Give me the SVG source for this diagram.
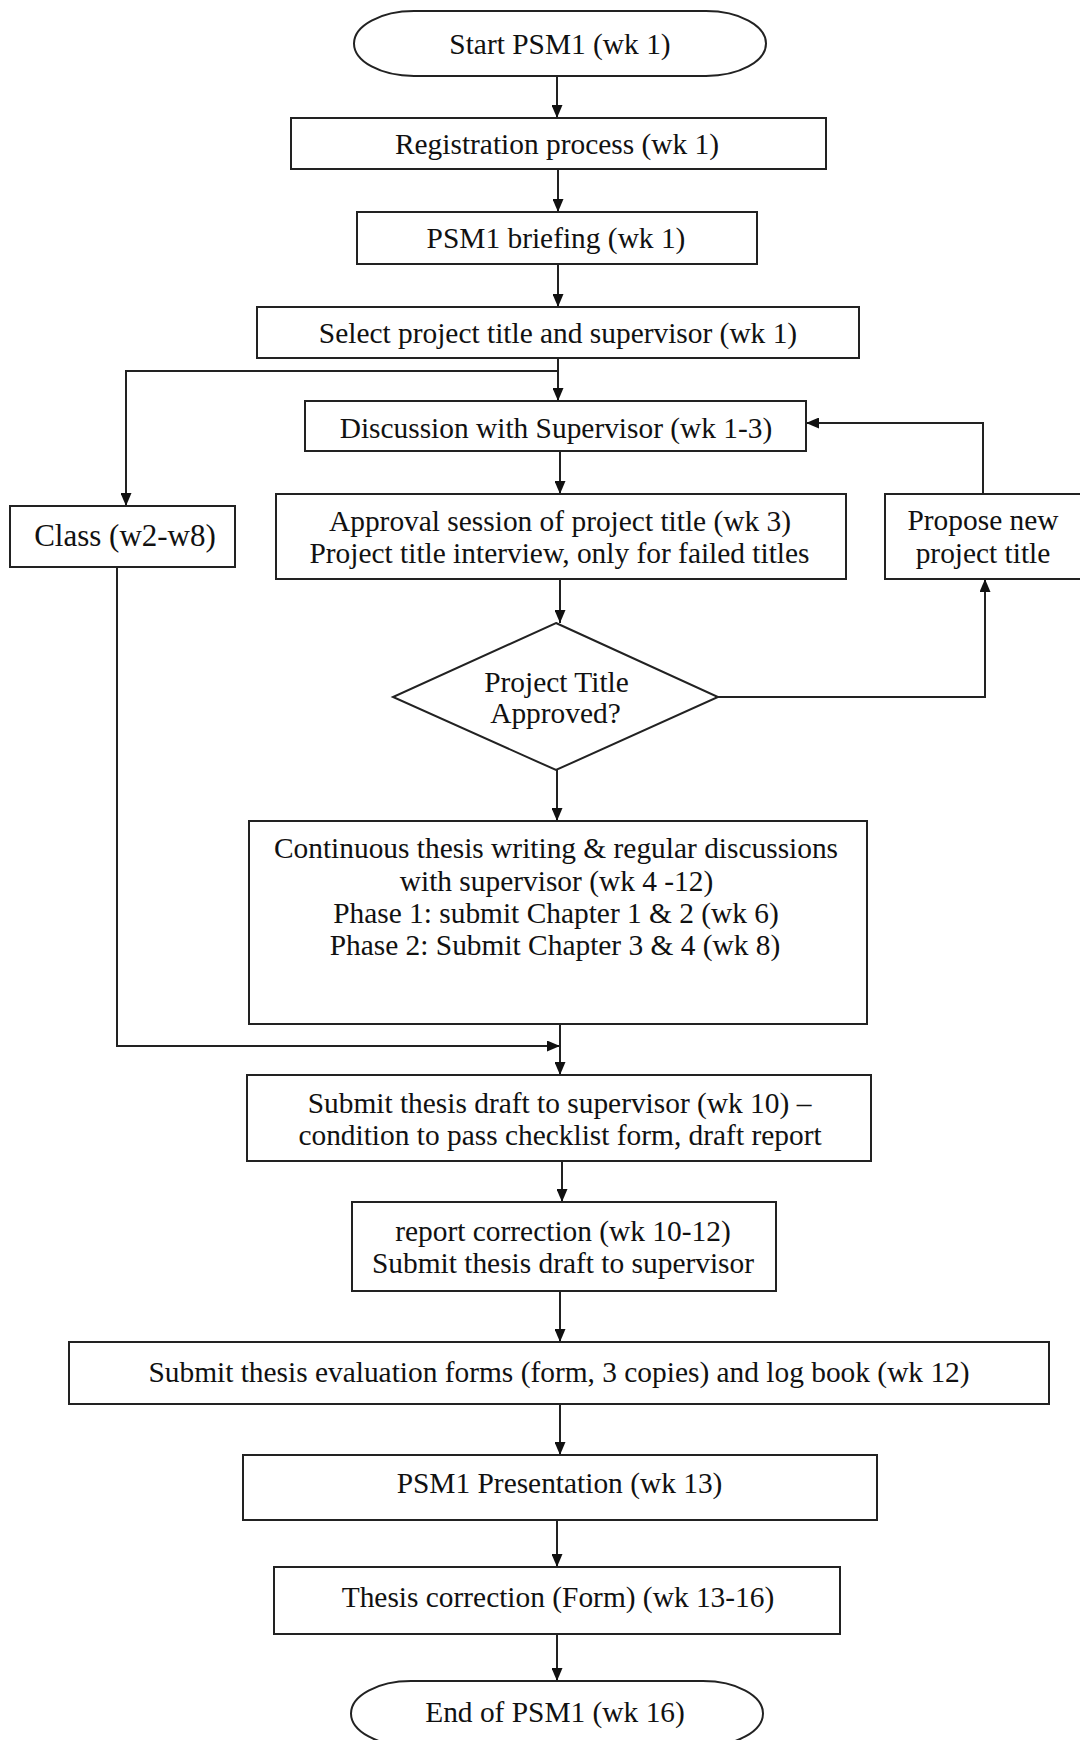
<svg xmlns="http://www.w3.org/2000/svg" width="1080" height="1740" viewBox="0 0 1080 1740">
<defs>
<marker id="ah" viewBox="0 0 13 11" refX="13" refY="5.5" markerWidth="13" markerHeight="11" markerUnits="userSpaceOnUse" orient="auto">
<path d="M0,0 L13,5.5 L0,11 Z" fill="#111"/>
</marker>
<style>
.n{fill:#fff;stroke:#222;stroke-width:2}
.t{font-family:"Liberation Serif","Times New Roman",serif;font-size:29.4px;fill:#111;text-anchor:middle}
.c{fill:none;stroke:#222;stroke-width:2}
</style>
</defs>
<rect width="1080" height="1740" fill="#fff"/>
<g id="connectors">
<path class="c" d="M557,76 V118" marker-end="url(#ah)"/>
<path class="c" d="M558,169 V212" marker-end="url(#ah)"/>
<path class="c" d="M558,264 V307" marker-end="url(#ah)"/>
<path class="c" d="M558,358 V401" marker-end="url(#ah)"/>
<path class="c" d="M558,371 H126 V506" marker-end="url(#ah)"/>
<path class="c" d="M560,451 V494" marker-end="url(#ah)"/>
<path class="c" d="M560,579 V623" marker-end="url(#ah)"/>
<path class="c" d="M718,697 H985 V579" marker-end="url(#ah)"/>
<path class="c" d="M983,494 V423 H806" marker-end="url(#ah)"/>
<path class="c" d="M557,770 V821" marker-end="url(#ah)"/>
<path class="c" d="M117,567 V1046 H560" marker-end="url(#ah)"/>
<path class="c" d="M560,1024 V1075" marker-end="url(#ah)"/>
<path class="c" d="M562,1161 V1202" marker-end="url(#ah)"/>
<path class="c" d="M560,1291 V1342" marker-end="url(#ah)"/>
<path class="c" d="M560,1404 V1455" marker-end="url(#ah)"/>
<path class="c" d="M557,1520 V1567" marker-end="url(#ah)"/>
<path class="c" d="M557,1634 V1681" marker-end="url(#ah)"/>
</g>
<g id="start">
<rect class="n" x="354" y="11" width="412" height="65" rx="60" ry="32.5"/>
<text class="t" x="560" y="54">Start PSM1 (wk 1)</text>
</g>
<g id="registration">
<rect class="n" x="291" y="118" width="535" height="51"/>
<text class="t" x="557" y="154">Registration process (wk 1)</text>
</g>
<g id="briefing">
<rect class="n" x="357" y="212" width="400" height="52"/>
<text class="t" x="556" y="248">PSM1 briefing (wk 1)</text>
</g>
<g id="select">
<rect class="n" x="257" y="307" width="602" height="51"/>
<text class="t" x="558" y="343">Select project title and supervisor (wk 1)</text>
</g>
<g id="discussion">
<rect class="n" x="305" y="401" width="501" height="50"/>
<text class="t" x="556" y="438">Discussion with Supervisor (wk 1-3)</text>
</g>
<g id="class">
<rect class="n" x="10" y="506" width="225" height="61"/>
<text class="t" x="125" y="546" style="font-size:31px">Class (w2-w8)</text>
</g>
<g id="approval">
<rect class="n" x="276" y="494" width="570" height="85"/>
<text class="t" x="560" y="531">Approval session of project title (wk 3)</text>
<text class="t" x="559.5" y="563">Project title interview, only for failed titles</text>
</g>
<g id="propose">
<rect class="n" x="885" y="494" width="200" height="85"/>
<text class="t" x="983" y="530">Propose new</text>
<text class="t" x="983" y="563">project title</text>
</g>
<g id="decision">
<polygon class="n" points="556,623 718,697 556,770 393,697"/>
<text class="t" x="556.5" y="692">Project Title</text>
<text class="t" x="555.5" y="723">Approved?</text>
</g>
<g id="writing">
<rect class="n" x="249" y="821" width="618" height="203"/>
<text class="t" x="556" y="858">Continuous thesis writing &amp; regular discussions</text>
<text class="t" x="556.5" y="891">with supervisor (wk 4 -12)</text>
<text class="t" x="556" y="923">Phase 1: submit Chapter 1 &amp; 2 (wk 6)</text>
<text class="t" x="555" y="955">Phase 2: Submit Chapter 3 &amp; 4 (wk 8)</text>
</g>
<g id="draft">
<rect class="n" x="247" y="1075" width="624" height="86"/>
<text class="t" x="559.5" y="1113">Submit thesis draft to supervisor (wk 10) –</text>
<text class="t" x="560" y="1145">condition to pass checklist form, draft report</text>
</g>
<g id="report">
<rect class="n" x="352" y="1202" width="424" height="89"/>
<text class="t" x="563" y="1241">report correction (wk 10-12)</text>
<text class="t" x="563" y="1273">Submit thesis draft to supervisor</text>
</g>
<g id="evaluation">
<rect class="n" x="69" y="1342" width="980" height="62"/>
<text class="t" x="559" y="1382">Submit thesis evaluation forms (form, 3 copies) and log book (wk 12)</text>
</g>
<g id="presentation">
<rect class="n" x="243" y="1455" width="634" height="65"/>
<text class="t" x="559.5" y="1493">PSM1 Presentation (wk 13)</text>
</g>
<g id="correction">
<rect class="n" x="274" y="1567" width="566" height="67"/>
<text class="t" x="558" y="1607">Thesis correction (Form) (wk 13-16)</text>
</g>
<g id="end">
<rect class="n" x="351" y="1681" width="412" height="65" rx="60" ry="32.5"/>
<text class="t" x="555" y="1722">End of PSM1 (wk 16)</text>
</g>
</svg>
